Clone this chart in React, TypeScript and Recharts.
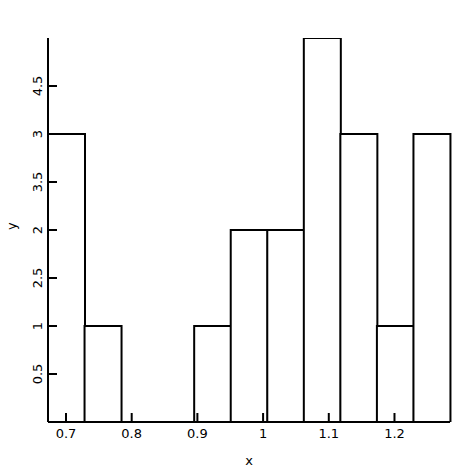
import { Bar, ComposedChart, Line, XAxis, YAxis } from "recharts";

// histogram bins (left edges), bin mid-points and counts
const binEdges = ["0.673", "0.728", "0.784", "0.840", "0.895", "0.951", "1.006", "1.062", "1.117", "1.173", "1.229"];
const binMids = [0.700, 0.756, 0.812, 0.867, 0.923, 0.978, 1.034, 1.089, 1.145, 1.201, 1.256];
const binCounts = [3, 1, 0, 0, 1, 2, 2, 4, 3, 1, 3];

const xTicks = [0.7, 0.8, 0.9, 1, 1.1, 1.2];
const xDomain = [0.6726, 1.2845];

// y tick positions and the labels exactly as printed on the source
const yTicks = [0.5, 1, 1.5, 2, 2.5, 3, 3.5];
const yTickLabels = ["0.5", "1", "2.5", "2", "3.5", "3", "4.5"];

const data = binEdges.map((edge, i) => ({ bin: edge, mid: binMids[i], count: binCounts[i] }));

const FONT = "'DejaVu Sans', sans-serif";

function RotatedTick({ x, y, payload }: any) {
  const idx = yTicks.indexOf(payload.value);
  return (
    <text
      x={x}
      y={y}
      transform={`rotate(-90, ${x}, ${y})`}
      textAnchor="middle"
      fontFamily={FONT}
      fontSize={13}
      fill="#000"
    >
      {idx >= 0 ? yTickLabels[idx] : payload.value}
    </text>
  );
}

export default function App() {
  return (
    <div style={{ position: "absolute", left: 0, top: 0, width: 470, height: 470, background: "#fff" }}>
      <ComposedChart
        width={470}
        height={470}
        data={data}
        margin={{ top: 38, right: 20, left: 0, bottom: 0 }}
        barCategoryGap={0}
        barGap={0}
      >
        <XAxis xAxisId="bins" dataKey="bin" type="category" hide height={0} />
        <XAxis
          xAxisId="num"
          dataKey="mid"
          type="number"
          domain={xDomain}
          allowDataOverflow
          ticks={xTicks}
          height={48}
          axisLine={{ stroke: "#000", strokeWidth: 2 }}
          tickLine={{ stroke: "#000", strokeWidth: 2 }}
          tickSize={-9}
          tickMargin={16}
          tick={{ fontFamily: FONT, fontSize: 13, fill: "#000" }}
          label={{ value: "x", position: "insideBottom", offset: 5, fontFamily: FONT, fontSize: 13, fill: "#000" }}
        />
        <YAxis
          type="number"
          domain={[0, 4]}
          allowDataOverflow
          ticks={yTicks}
          width={48}
          axisLine={{ stroke: "#000", strokeWidth: 2 }}
          tickLine={{ stroke: "#000", strokeWidth: 2 }}
          tickSize={-9}
          tickMargin={15}
          tick={<RotatedTick />}
          label={{ value: "y", angle: -90, position: "insideLeft", offset: 11, fontFamily: FONT, fontSize: 13, fill: "#000" }}
        />
        <Bar
          xAxisId="bins"
          dataKey="count"
          fill="#fff"
          stroke="#000"
          strokeWidth={2}
          isAnimationActive={false}
        />
        <Line
          xAxisId="num"
          dataKey="count"
          stroke="none"
          dot={false}
          activeDot={false}
          isAnimationActive={false}
        />
      </ComposedChart>
    </div>
  );
}
